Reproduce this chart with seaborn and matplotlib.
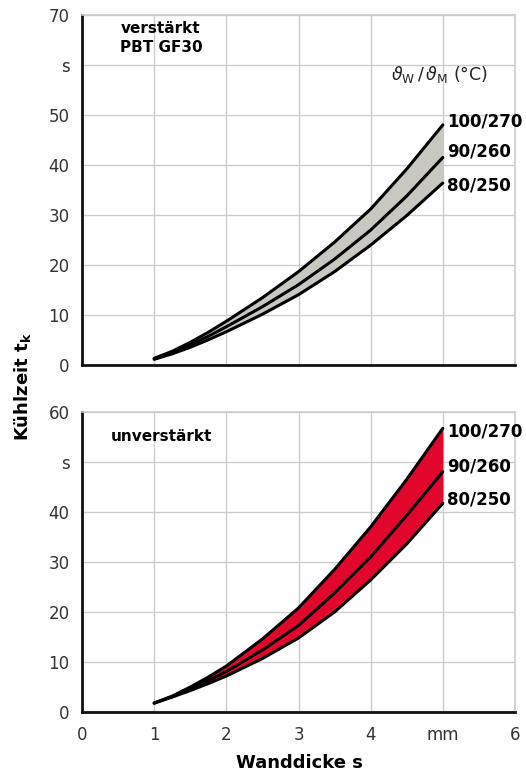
import numpy as np
import pandas as pd
import matplotlib
matplotlib.use("Agg")
import matplotlib.pyplot as plt
import seaborn as sns

# Data
s = [1.0, 1.25, 1.5, 1.75, 2.0, 2.5, 3.0, 3.5, 4.0, 4.5, 5.0]
top_100_270 = [1.4, 2.8, 4.6, 6.6, 8.8, 13.5, 18.7, 24.6, 31.2, 39.2, 48.0]
top_90_260 = [1.3, 2.5, 4.1, 5.8, 7.7, 11.7, 16.1, 21.2, 27.0, 33.8, 41.5]
top_80_250 = [1.2, 2.3, 3.6, 5.1, 6.7, 10.2, 14.1, 18.7, 24.0, 29.9, 36.4]
bot_100_270 = [1.8, 3.2, 5.0, 7.0, 9.2, 14.6, 20.8, 28.5, 37.0, 46.5, 56.7]
bot_90_260 = [1.8, 3.1, 4.6, 6.3, 8.1, 12.4, 17.3, 23.8, 31.0, 39.3, 48.0]
bot_80_250 = [1.8, 3.0, 4.3, 5.7, 7.2, 10.7, 14.8, 20.0, 26.4, 33.6, 41.7]
series_labels = ["100/270", "90/260", "80/250"]
x_ticklabels = ["0", "1", "2", "3", "4", "mm", "6"]
top_yticklabels = ["0", "10", "20", "30", "40", "50", "s", "70"]
bot_yticklabels = ["0", "10", "20", "30", "40", "s", "60"]

sns.set_theme(style="whitegrid")
plt.rcParams['font.family'] = ['DejaVu Sans']
plt.rcParams['mathtext.fontset'] = 'dejavusans'

fig = plt.figure(figsize=(5.26, 7.74), dpi=100)
ax1 = fig.add_axes([0.156, 0.528, 0.823, 0.453])
ax2 = fig.add_axes([0.156, 0.080, 0.823, 0.388])

def style(ax, ymax, yticklabels, show_x):
    ax.set_xlim(0, 6)
    ax.set_ylim(0, ymax)
    ax.set_xticks(range(7))
    ax.set_yticks(range(0, ymax + 1, 10))
    ax.set_yticklabels(yticklabels)
    if show_x:
        ax.set_xticklabels(x_ticklabels)
    else:
        ax.set_xticklabels([])
    ax.grid(True, color='#cccccc', lw=1.0)
    ax.tick_params(axis='both', length=0, labelsize=12, labelcolor='#333333')
    ax.tick_params(axis='y', pad=9)
    ax.tick_params(axis='x', pad=10)
    for side in ['top', 'right']:
        ax.spines[side].set_color('#cccccc')
        ax.spines[side].set_linewidth(1.2)
    for side in ['left', 'bottom']:
        ax.spines[side].set_color('#111111')
        ax.spines[side].set_linewidth(2.0)
    ax.set_xlabel('')
    ax.set_ylabel('')

def draw(ax, up, mid, lo, color):
    ax.fill_between(s, lo, up, color=color, lw=0, zorder=2)
    for ys in (up, mid, lo):
        df = pd.DataFrame({'s': s, 't': ys})
        sns.lineplot(data=df, x='s', y='t', ax=ax, color='black', lw=2.2, zorder=3)

draw(ax1, top_100_270, top_90_260, top_80_250, '#c8c8c0')
draw(ax2, bot_100_270, bot_90_260, bot_80_250, '#e2062c')
style(ax1, 70, top_yticklabels, False)
style(ax2, 60, bot_yticklabels, True)

lab_kw = dict(fontsize=12, fontweight='bold', color='black', va='center', ha='left')
top_label_y = [48.6, 42.6, 36.0]
bot_label_y = [56.0, 49.0, 42.4]
for ax, ys in ((ax1, top_label_y), (ax2, bot_label_y)):
    for lbl, yv in zip(series_labels, ys):
        ax.text(5.06, yv, lbl, **lab_kw)

ax1.text(0.53, 68.8, 'verstärkt\nPBT GF30', fontsize=11, fontweight='bold', color='black',
         va='top', ha='left', multialignment='left', linespacing=1.35)
ax2.text(0.40, 55.0, 'unverstärkt', fontsize=11, fontweight='bold', color='black', va='center', ha='left')
ax1.text(4.96, 58.0, r'$\vartheta_{\mathrm{W}}\,/\,\vartheta_{\mathrm{M}}$ (°C)', fontsize=12.5,
         va='center', ha='center', color='#222222')

fig.text(0.042, 0.50, r'Kühlzeit $\mathbf{t_k}$', rotation=90, fontsize=13, fontweight='bold',
         color='black', va='center', ha='center')
fig.text(0.569, 0.014, 'Wanddicke s', fontsize=13, fontweight='bold', color='black', va='center', ha='center')

fig.savefig('out.png', dpi=100)
